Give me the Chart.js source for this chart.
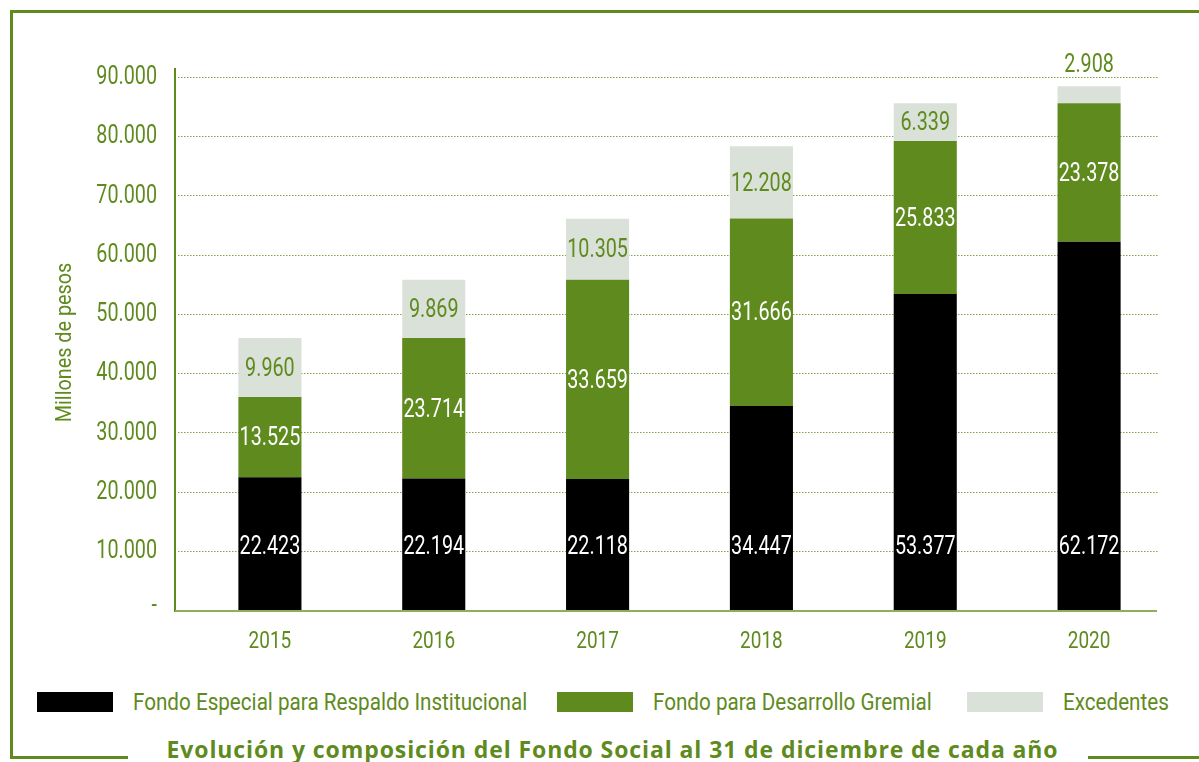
<!DOCTYPE html>
<html>
<head>
<meta charset="utf-8">
<script src="https://cdn.jsdelivr.net/npm/chart.js@4.4.0/dist/chart.umd.min.js"></script>
<style>
  body { margin: 0; background: #fff; }
  #wrap { position: relative; width: 1199px; height: 762px; overflow: hidden; background: #fff; }
  #chartBox { position: absolute; left: 0; top: 0; width: 1199px; height: 670px; }
  .line { position: absolute; background: #5f8a1e; }
  .legend-item { position: absolute; top: 690px; height: 24px; display: flex; align-items: center; }
  .legend-box { width: 76px; height: 20px; margin-right: 20px; flex: none; }
  .legend-text { font: 24px Roboto, sans-serif; color: #5f8a1e; white-space: nowrap; display: inline-block; transform: scaleX(0.86); transform-origin: 0 50%; }
  #title { position: absolute; left: 0; width: 1199px; top: 733px; text-align: center; font: 700 23px "Open Sans", sans-serif; color: #5f8a1e; letter-spacing: 0.9px; padding-left: 26px; box-sizing: border-box; white-space: nowrap; }
</style>
</head>
<body>
<div id="wrap">
  <div class="line" style="left:10px;top:10px;width:1189px;height:3px"></div>
  <div class="line" style="left:10px;top:10px;width:3px;height:749px"></div>
  <div class="line" style="left:10px;top:756px;width:118px;height:3px"></div>
  <div class="line" style="left:1088px;top:756px;width:111px;height:3px"></div>
  <div id="chartBox"><canvas id="fondo-social"></canvas></div>
  <div id="legend"></div>
  <div id="title">Evolución y composición del Fondo Social al 31 de diciembre de cada año</div>
</div>
<script>
const years = ["2015", "2016", "2017", "2018", "2019", "2020"];
const fondoEspecial = [22423, 22194, 22118, 34447, 53377, 62172];
const fondoDesarrollo = [13525, 23714, 33659, 31666, 25833, 23378];
const excedentes = [9960, 9869, 10305, 12208, 6339, 2908];
const yTicks = [0, 10000, 20000, 30000, 40000, 50000, 60000, 70000, 80000, 90000];
const seriesNames = ["Fondo Especial para Respaldo Institucional", "Fondo para Desarrollo Gremial", "Excedentes"];
const yTitle = "Millones de pesos";

const green = "#5f8a1e";
const seriesColors = ["#000000", green, "#dae1d8"];
const squeeze = 0.79;

function formatNumber(value) {
  if (value === 0) return "-";
  return String(value).replace(/\B(?=(\d{3})+(?!\d))/g, ".");
}

// texto condensado: Roboto estrechado horizontalmente
function narrowText(ctx, text, x, y, align, sx = squeeze) {
  ctx.save();
  ctx.translate(x, y);
  ctx.scale(sx, 1);
  ctx.textAlign = align;
  ctx.fillText(text, 0, 0);
  ctx.restore();
}

const axisLines = {
  id: "axisLines",
  beforeDatasetsDraw(chart) {
    const { ctx, scales: { x, y }, chartArea } = chart;
    ctx.save();
    ctx.strokeStyle = "#7fa24a";
    ctx.lineWidth = 1;
    ctx.setLineDash([1.5, 1.5]);
    yTicks.forEach((v) => {
      if (v === 0) return;
      const py = Math.round(y.getPixelForValue(v)) + 0.5;
      ctx.beginPath();
      ctx.moveTo(178, py);
      ctx.lineTo(1158, py);
      ctx.stroke();
    });
    ctx.setLineDash([]);
    ctx.strokeStyle = green;
    ctx.lineWidth = 2;
    ctx.beginPath();
    ctx.moveTo(175, chartArea.top - 9);
    ctx.lineTo(175, chartArea.bottom + 2);
    ctx.stroke();
    ctx.strokeStyle = "#8fae5c";
    ctx.beginPath();
    ctx.moveTo(175, chartArea.bottom + 1);
    ctx.lineTo(1157, chartArea.bottom + 1);
    ctx.stroke();

    // etiquetas de ejes
    ctx.fillStyle = green;
    ctx.textBaseline = "middle";
    ctx.font = "25px Roboto, sans-serif";
    yTicks.forEach((v) => {
      const py = y.getPixelForValue(v);
      narrowText(ctx, formatNumber(v), 157, v === 0 ? py - 3 : py + 1, "right");
    });
    ctx.font = "24px Roboto, sans-serif";
    years.forEach((label, i) => {
      narrowText(ctx, label, x.getPixelForValue(i), chartArea.bottom + 32, "center");
    });
    ctx.save();
    ctx.translate(65, (chartArea.top + chartArea.bottom) / 2 - 1);
    ctx.rotate(-Math.PI / 2);
    ctx.font = "22px Roboto, sans-serif";
    narrowText(ctx, yTitle, 0, 0, "center", 0.9);
    ctx.restore();
    ctx.restore();
  },
};

const valueLabels = {
  id: "valueLabels",
  afterDatasetsDraw(chart) {
    const { ctx, scales: { y } } = chart;
    ctx.save();
    ctx.font = "25px Roboto, sans-serif";
    ctx.textBaseline = "middle";
    chart.data.datasets.forEach((ds, di) => {
      const meta = chart.getDatasetMeta(di);
      meta.data.forEach((bar, i) => {
        let py = (bar.y + bar.base) / 2;
        ctx.fillStyle = di === 2 ? green : "#ffffff";
        if (di === 0) {
          py = y.getPixelForValue(10000) - 5;
        } else if (di === 2 && bar.base - bar.y < 25) {
          py = bar.y - 22;
        }
        narrowText(ctx, formatNumber(ds.data[i]), bar.x, py + 2, "center");
      });
    });
    ctx.restore();
  },
};

const legend = document.getElementById("legend");
const legendX = [37, 557, 967];
seriesNames.forEach((name, i) => {
  const item = document.createElement("div");
  item.className = "legend-item";
  item.style.left = legendX[i] + "px";
  item.innerHTML = '<div class="legend-box" style="background:' + seriesColors[i] + '"></div><span class="legend-text">' + name + "</span>";
  legend.appendChild(item);
});

new Chart(document.getElementById("fondo-social"), {
  type: "bar",
  data: {
    labels: years,
    datasets: [
      { label: seriesNames[0], data: fondoEspecial, backgroundColor: seriesColors[0] },
      { label: seriesNames[1], data: fondoDesarrollo, backgroundColor: seriesColors[1] },
      { label: seriesNames[2], data: excedentes, backgroundColor: seriesColors[2] },
    ],
  },
  options: {
    responsive: true,
    maintainAspectRatio: false,
    animation: false,
    layout: { padding: { left: 48, right: 28, top: 77, bottom: 0 } },
    datasets: { bar: { barPercentage: 0.385, categoryPercentage: 1 } },
    plugins: { legend: { display: false }, tooltip: { enabled: false } },
    scales: {
      x: {
        stacked: true,
        grid: { display: false },
        border: { display: false },
        ticks: { display: false },
        afterFit(scale) { scale.height = 60; },
      },
      y: {
        stacked: true,
        min: 0,
        max: 90000,
        grid: { display: false, drawTicks: false },
        border: { display: false },
        afterBuildTicks(scale) { scale.ticks = yTicks.map((v) => ({ value: v })); },
        afterFit(scale) { scale.width = 140; },
        ticks: { display: false },
      },
    },
  },
  plugins: [axisLines, valueLabels],
});
</script>
</body>
</html>
